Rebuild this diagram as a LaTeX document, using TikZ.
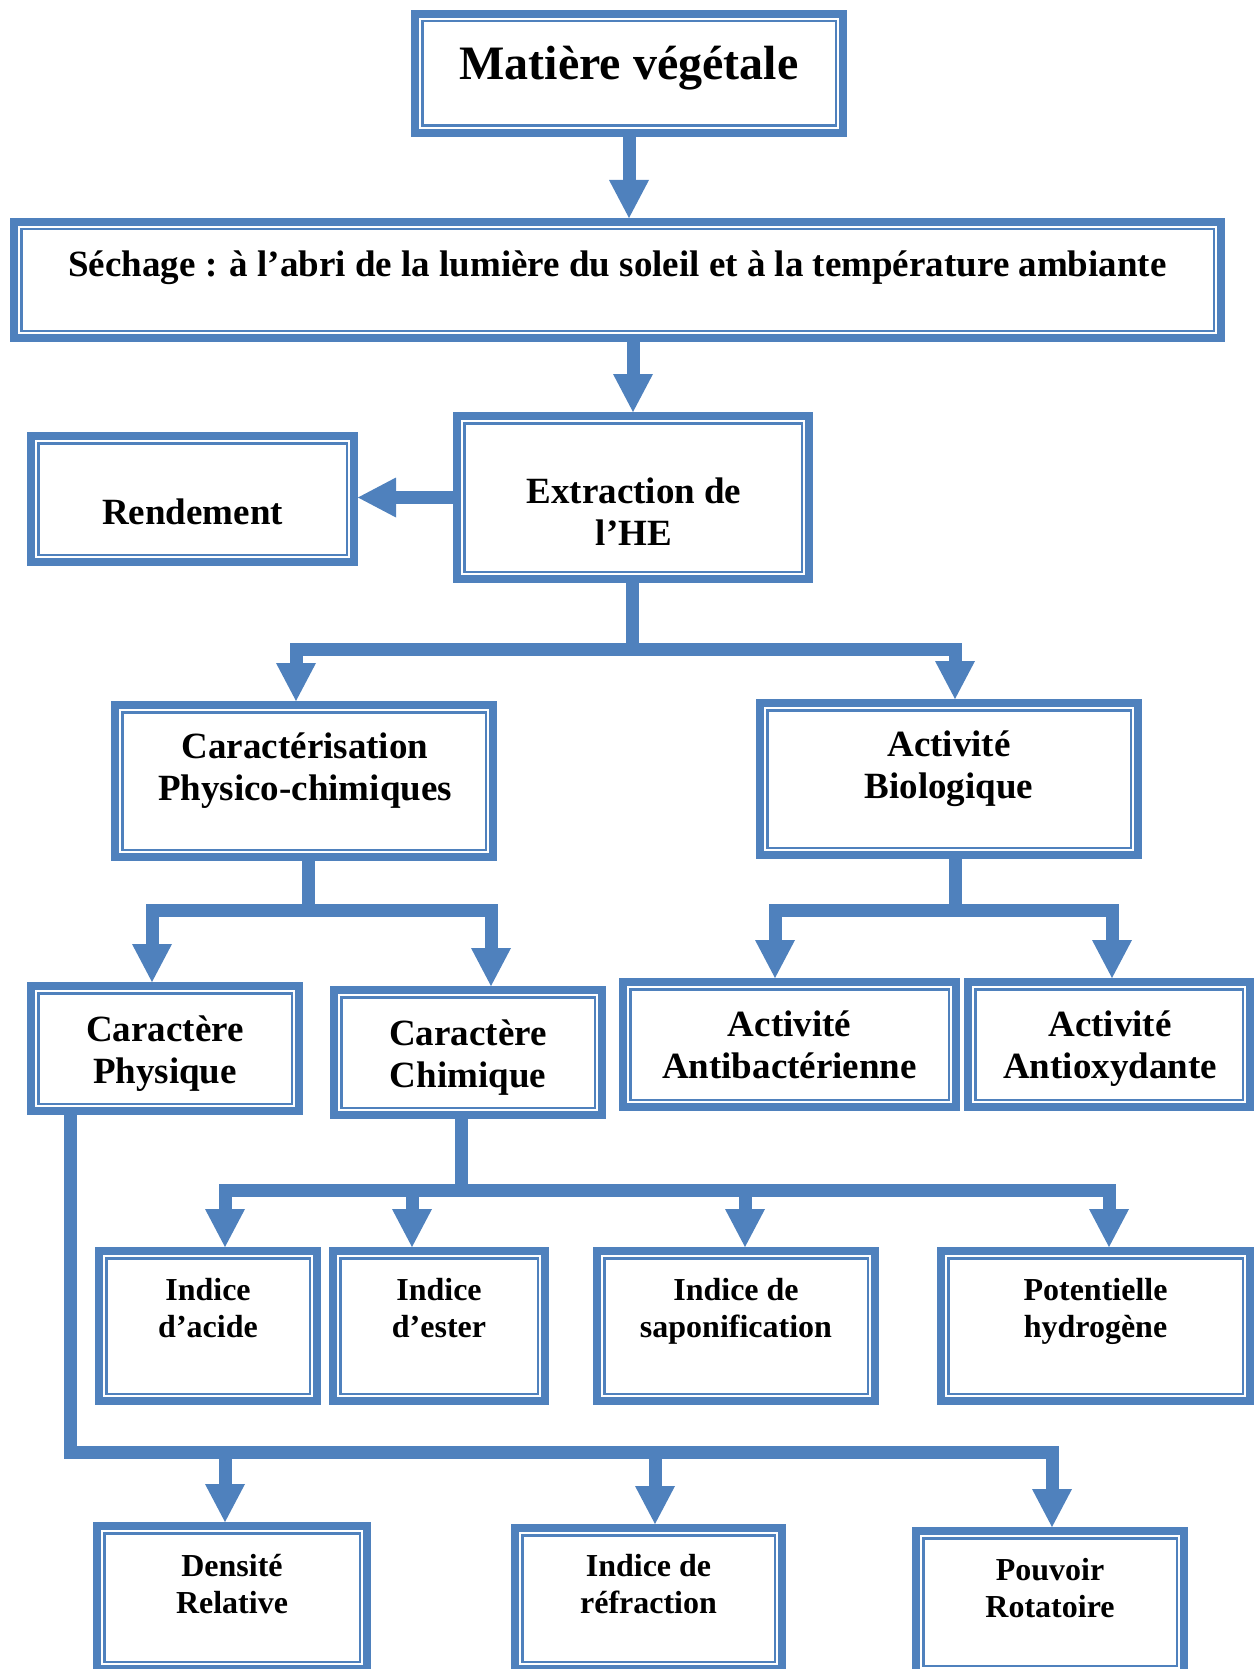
\documentclass[tikz,border=0pt]{standalone}
\usepackage{fontspec}
\setmainfont{Liberation Serif}
\usetikzlibrary{arrows.meta}

\definecolor{bleu}{HTML}{4F81BD}
\newcommand{\policegrande}{\fontsize{48}{55}\selectfont\bfseries}
\newcommand{\policemoyenne}{\fontsize{37}{42}\selectfont\bfseries}
\newcommand{\policepetite}{\fontsize{32}{37}\selectfont\bfseries}

\tikzset{
	boite/.style = {draw = bleu, line width = 8pt, fill = white, inner sep = 0pt,
		path picture = {\draw[bleu, line width = 2.5pt] ([shift = {(7.25pt, -7.25pt)}]path picture bounding box.north west) rectangle ([shift = {(-7.25pt, 7.25pt)}]path picture bounding box.south east);}},
	texte/.style = {anchor = base, align = center, inner sep = 0pt, font = \policemoyenne},
	lien/.style = {draw = bleu, line width = 13pt, line cap = rect},
	fleche/.style = {draw = bleu, line width = 13pt, -{Triangle[width = 40pt, length = 38pt, line width = 0pt]}}
}

\begin{document}
\begin{tikzpicture}[x = 1pt, y = -1pt]
	\useasboundingbox (0, 0) rectangle (1255, 1669);
	\clip (0, 0) rectangle (1255, 1669);
	% boites
	\node[boite, minimum width = 428pt, minimum height = 119pt] (mat) at (629, 73.5) {};
	\node[boite, minimum width = 1207pt, minimum height = 116pt] (sech) at (617.5, 280) {};
	\node[boite, minimum width = 352pt, minimum height = 163pt] (extr) at (633, 497.5) {};
	\node[boite, minimum width = 323pt, minimum height = 126pt] (rend) at (192.5, 499) {};
	\node[boite, minimum width = 378pt, minimum height = 152pt] (carac) at (304, 781) {};
	\node[boite, minimum width = 378pt, minimum height = 152pt] (bio) at (949, 779) {};
	\node[boite, minimum width = 268pt, minimum height = 125pt] (cphys) at (165, 1048.5) {};
	\node[boite, minimum width = 268pt, minimum height = 125pt] (cchim) at (468, 1052.5) {};
	\node[boite, minimum width = 333pt, minimum height = 125pt] (antib) at (789.5, 1044.5) {};
	\node[boite, minimum width = 282pt, minimum height = 125pt] (antiox) at (1109, 1044.5) {};
	\node[boite, minimum width = 218pt, minimum height = 150pt] (iacide) at (208, 1326) {};
	\node[boite, minimum width = 212pt, minimum height = 150pt] (iester) at (439, 1326) {};
	\node[boite, minimum width = 278pt, minimum height = 150pt] (isapo) at (736, 1326) {};
	\node[boite, minimum width = 309pt, minimum height = 150pt] (ph) at (1095.5, 1326) {};
	\node[boite, minimum width = 270pt, minimum height = 143pt] (dens) at (232, 1597.5) {};
	\node[boite, minimum width = 267pt, minimum height = 141pt] (irefr) at (648.5, 1598.5) {};
	\node[boite, minimum width = 268pt, minimum height = 142pt] (pouv) at (1050, 1602) {};
	% textes (base = derniere ligne)
	\node[texte, font = \policegrande] (t-mat) at (629, 80) {Matière végétale};
	\node[texte] (t-sech) at (617.5, 277) {Séchage : à l’abri de la lumière du soleil et à la température ambiante};
	\node[texte] (t-extr) at (634, 545) {Extraction de\\l’HE};
	\node[texte] (t-rend) at (192.5, 524) {Rendement};
	\node[texte] (t-carac) at (305, 800) {Caractérisation\\Physico-chimiques};
	\node[texte] (t-bio) at (949, 798) {Activité\\Biologique};
	\node[texte] (t-cphys) at (165, 1083) {Caractère\\Physique};
	\node[texte] (t-cchim) at (468, 1087) {Caractère\\Chimique};
	\node[texte] (t-antib) at (789.5, 1078) {Activité\\Antibactérienne};
	\node[texte] (t-antiox) at (1110, 1078) {Activité\\Antioxydante};
	\node[texte, font = \policepetite] (t-iacide) at (208, 1337) {Indice\\d’acide};
	\node[texte, font = \policepetite] (t-iester) at (439, 1337) {Indice\\d’ester};
	\node[texte, font = \policepetite] (t-isapo) at (736, 1337) {Indice de\\saponification};
	\node[texte, font = \policepetite] (t-ph) at (1095.5, 1337) {Potentielle\\hydrogène};
	\node[texte, font = \policepetite] (t-dens) at (232, 1613) {Densité\\Relative};
	\node[texte, font = \policepetite] (t-irefr) at (648.5, 1613) {Indice de\\réfraction};
	\node[texte, font = \policepetite] (t-pouv) at (1050, 1617) {Pouvoir\\Rotatoire};
	% jonctions
	\coordinate (j-extr) at (632, 649);
	\coordinate (j-carac) at (308, 910);
	\coordinate (j-bio) at (955, 910);
	\coordinate (j-chim) at (461, 1190);
	\coordinate (j-phys) at (70, 1452);
	% liens
	\draw[fleche] (mat.south) -- (mat.south |- sech.north);
	\draw[fleche] (sech.south -| extr.north) -- (extr.north);
	\draw[fleche] (extr.west) -- (extr.west -| rend.east);
	\draw[lien] (extr.south -| j-extr) -- (j-extr);
	\draw[fleche] (j-extr) -| ([xshift = -8pt]carac.north);
	\draw[fleche] (j-extr) -| ([xshift = 6pt]bio.north);
	\draw[lien] (carac.south -| j-carac) -- (j-carac);
	\draw[fleche] (j-carac) -| ([xshift = -13pt]cphys.north);
	\draw[fleche] (j-carac) -| ([xshift = 23pt]cchim.north);
	\draw[lien] (bio.south -| j-bio) -- (j-bio);
	\draw[fleche] (j-bio) -| ([xshift = -14.5pt]antib.north);
	\draw[fleche] (j-bio) -| ([xshift = 3pt]antiox.north);
	\draw[lien] (cchim.south -| j-chim) -- (j-chim);
	\draw[fleche] (j-chim) -| ([xshift = 17pt]iacide.north);
	\draw[fleche] (j-chim) -| ([xshift = -27pt]iester.north);
	\draw[fleche] (j-chim) -| ([xshift = 9pt]isapo.north);
	\draw[fleche] (j-chim) -| ([xshift = 13.5pt]ph.north);
	\draw[lien] (cphys.south -| j-phys) -- (j-phys);
	\draw[fleche] (j-phys) -| ([xshift = -7pt]dens.north);
	\draw[fleche] (j-phys) -| ([xshift = 6.5pt]irefr.north);
	\draw[fleche] (j-phys) -| ([xshift = 2pt]pouv.north);
\end{tikzpicture}
\end{document}
